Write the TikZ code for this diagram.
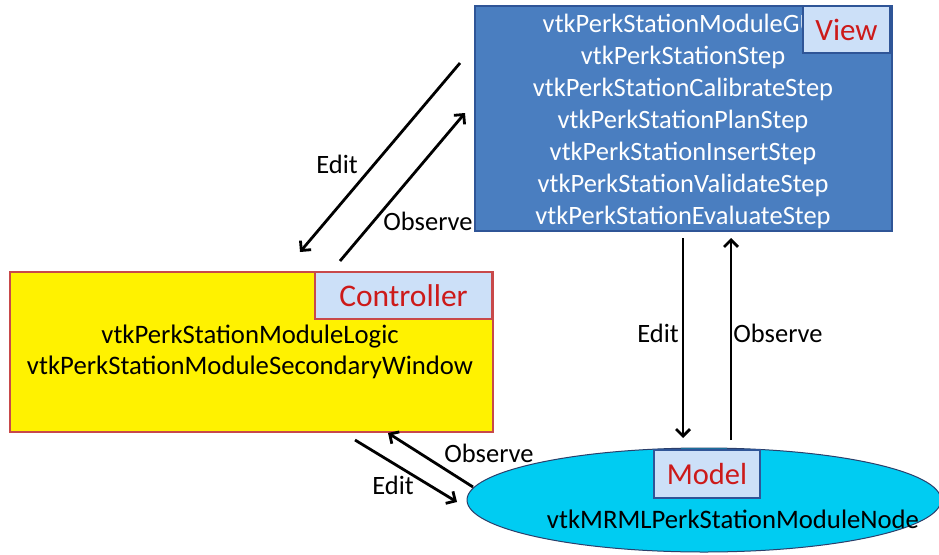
\documentclass[tikz,border=0pt]{standalone}
\usepackage{fontspec}
\setmainfont{Carlito}
\usetikzlibrary{shapes.geometric,arrows.meta}
\definecolor{viewblue}{HTML}{4A7EC0}
\definecolor{viewedge}{HTML}{2F5597}
\definecolor{tagfill}{HTML}{CCE0F8}
\definecolor{tagred}{HTML}{CC1A1A}
\definecolor{ctrledge}{HTML}{C8494A}
\definecolor{modelcyan}{HTML}{00CCF2}
\definecolor{modeledge}{HTML}{2B3F6B}
\tikzset{
  box/.style={rectangle, draw, inner sep=0pt},
  tag/.style={rectangle, draw, fill=tagfill, inner sep=0pt, text=tagred},
  body/.style={align=center, inner sep=0pt},
  flow/.style={line width=2.8pt, -{Straight Barb[length=7pt,width=14pt,line width=2.8pt]}},
  lbl/.style={inner sep=0pt, font=\fontsize{26.5}{30}\selectfont},
}
\begin{document}
\begin{tikzpicture}[x=1pt,y=-1pt]
\useasboundingbox (0,0) rectangle (939,554);
\fill[white] (0,0) rectangle (939,554);

% View
\node[box, draw=viewedge, line width=1.8pt, fill=viewblue,
  minimum width=417pt, minimum height=225pt] (view) at (683.5,118.5) {};
\node[body, text=white, font=\fontsize{26.5}{32}\selectfont] (viewtext) at (683,121)
  {vtkPerkStationModuleGUI\\vtkPerkStationStep\\vtkPerkStationCalibrateStep\\vtkPerkStationPlanStep\\vtkPerkStationInsertStep\\vtkPerkStationValidateStep\\vtkPerkStationEvaluateStep};
\node[tag, draw=viewedge, line width=1.2pt, font=\fontsize{31}{34}\selectfont,
  minimum width=87pt, minimum height=47pt] (viewtag) at (846.5,29.5) {View};

% Controller
\node[box, draw=ctrledge, line width=2pt, fill=yellow,
  minimum width=483pt, minimum height=160pt] (ctrl) at (251.5,352) {};
\node[tag, draw=ctrledge, line width=2pt, font=\fontsize{31.5}{34}\selectfont,
  minimum width=177pt, minimum height=47pt] (ctrltag) at (403.5,295.5) {Controller};
\node[body, font=\fontsize{26.7}{31}\selectfont] (ctrltext) at (250,352)
  {vtkPerkStationModuleLogic\\vtkPerkStationModuleSecondaryWindow};

% Model
\node[ellipse, draw=modeledge, line width=1pt, fill=modelcyan, inner sep=0pt,
  minimum width=474pt, minimum height=104pt] (model) at (704,500) {};
\node[tag, draw=viewedge, line width=1.5pt, font=\fontsize{30.5}{33}\selectfont,
  minimum width=106pt, minimum height=48pt] (modeltag) at (707,474) {Model};
\node[body, font=\fontsize{26.7}{30}\selectfont] (modeltext) at (733,519) {vtkMRMLPerkStationModuleNode};

% arrow end points
\coordinate (ve1) at (460,63);
\coordinate (ce1) at (300,252);
\coordinate (co1) at (340,261);
\coordinate (vo1) at (465,113);
\coordinate (ve2) at (683,238);
\coordinate (me2) at (683,438);
\coordinate (mo2) at (731,440);
\coordinate (vo2) at (731,238);
\coordinate (ce3) at (355,440);
\coordinate (me3) at (457,502);
\coordinate (mo3) at (473,487);
\coordinate (co3) at (388,433);

% View <-> Controller
\draw[flow] (ve1) -- (ce1);
\draw[flow] (co1) -- (vo1);
\node[lbl] (le1) at (337,164) {Edit};
\node[lbl] (lo1) at (428,221) {Observe};

% View <-> Model
\draw[flow] (ve2) -- (me2);
\draw[flow] (mo2) -- (vo2);
\node[lbl] (le2) at (658,333) {Edit};
\node[lbl] (lo2) at (778,333) {Observe};

% Controller <-> Model
\draw[flow] (ce3) -- (me3);
\draw[flow] (mo3) -- (co3);
\node[lbl] (le3) at (393,485) {Edit};
\node[lbl] (lo3) at (489,453) {Observe};
\end{tikzpicture}
\end{document}
